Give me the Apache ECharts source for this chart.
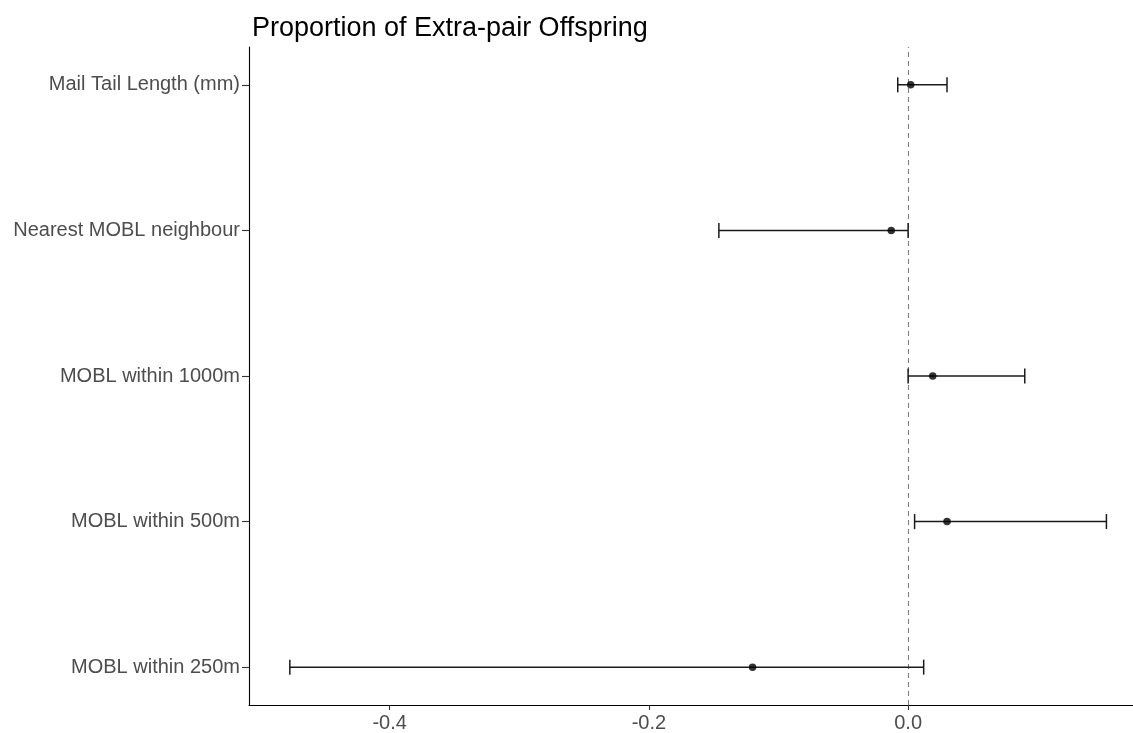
<!DOCTYPE html>
<html>
<head>
<meta charset="utf-8">
<script src="https://cdn.jsdelivr.net/npm/echarts@6/dist/echarts.min.js"></script>
<style>
html,body{margin:0;padding:0;background:#fff;}
#c{width:1133px;height:733px;}
</style>
</head>
<body>
<div id="c"></div>
<script>
const categories = ['MOBL within 250m','MOBL within 500m','MOBL within 1000m','Nearest MOBL neighbour','Mail Tail Length (mm)'];
const estimate = [-0.120, 0.030, 0.019, -0.013, 0.002];
const lower = [-0.477, 0.005, 0.000, -0.146, -0.008];
const upper = [0.012, 0.153, 0.090, 0.000, 0.030];
const xTicks = [-0.4, -0.2, 0.0];
const yTicks = [1, 2, 3, 4, 5];

const chart = echarts.init(document.getElementById('c'));
const font = 'Liberation Sans, Arial, sans-serif';

const pointData = estimate.map((v, i) => [v, i + 1]);
const barData = categories.map((c, i) => [lower[i], upper[i], i + 1]);

chart.setOption({
  animation: false,
  title: {
    text: 'Proportion of Extra-pair Offspring',
    left: 247, top: 10,
    textStyle: {fontFamily: font, fontSize: 27, fontWeight: 'normal', color: '#000'}
  },
  grid: {left: 249, right: 0, top: 47, bottom: 26.5, containLabel: false},
  xAxis: {
    type: 'value', min: -0.5085, max: 0.1735,
    splitLine: {show: false},
    axisLine: {show: true, onZero: false, lineStyle: {color: '#000', width: 1.1}},
    axisTick: {show: true, customValues: xTicks, length: 5, lineStyle: {color: '#333', width: 1.1}},
    axisLabel: {customValues: xTicks, formatter: v => Number(v).toFixed(1), fontFamily: font, fontSize: 20, color: '#4D4D4D', margin: 8}
  },
  yAxis: {
    type: 'value', min: 0.74, max: 5.26,
    splitLine: {show: false},
    axisLine: {show: true, onZero: false, lineStyle: {color: '#000', width: 1.1}},
    axisTick: {show: true, customValues: yTicks, length: 7, lineStyle: {color: '#333', width: 1.1}},
    axisLabel: {customValues: yTicks, formatter: v => categories[Math.round(v) - 1] || '', fontFamily: font, fontSize: 20, color: '#4D4D4D', margin: 9, padding: [4, 0, 0, 0]}
  },
  series: [
    {
      type: 'custom',
      data: barData,
      renderItem: function (params, api) {
        const y = api.value(2);
        const p1 = api.coord([api.value(0), y]);
        const p2 = api.coord([api.value(1), y]);
        const h = 7.5;
        const style = {stroke: '#1a1a1a', lineWidth: 1.5};
        return {
          type: 'group',
          children: [
            {type: 'line', shape: {x1: p1[0], y1: p1[1], x2: p2[0], y2: p2[1]}, style: style},
            {type: 'line', shape: {x1: p1[0], y1: p1[1] - h, x2: p1[0], y2: p1[1] + h}, style: style},
            {type: 'line', shape: {x1: p2[0], y1: p2[1] - h, x2: p2[0], y2: p2[1] + h}, style: style}
          ]
        };
      },
      z: 3
    },
    {
      type: 'scatter',
      data: pointData,
      symbol: 'circle',
      symbolSize: 7.5,
      itemStyle: {color: '#000'},
      z: 4,
      markLine: {
        silent: true,
        symbol: 'none',
        label: {show: false},
        lineStyle: {color: '#7f7f7f', type: [5, 4], width: 1.1},
        data: [{xAxis: 0}],
        z: 1
      }
    }
  ]
});
</script>
</body>
</html>
